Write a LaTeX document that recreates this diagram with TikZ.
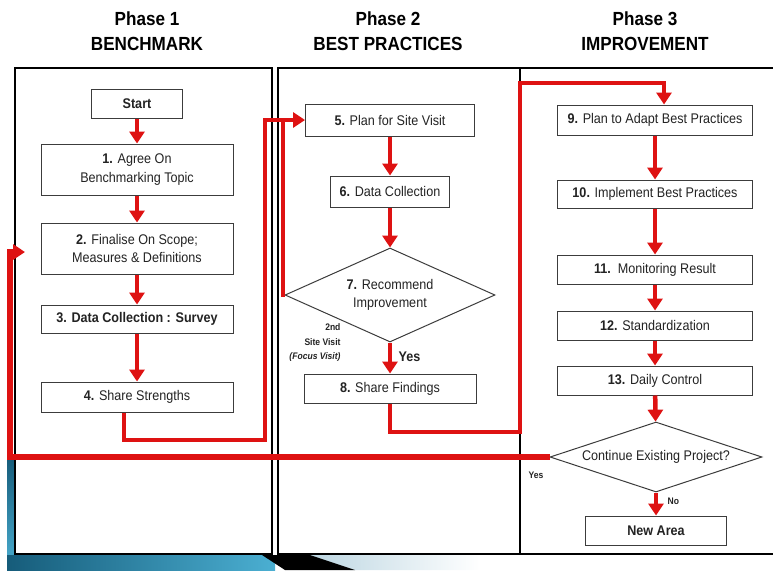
\documentclass[tikz,border=0pt]{standalone}
\usepackage{fontspec}
\setmainfont{Liberation Sans}[FakeStretch=0.9]
\usepackage{tikz}
\usetikzlibrary{calc}
\usetikzlibrary{shapes.geometric,arrows.meta}
\definecolor{flowred}{RGB}{222,18,18}
\definecolor{boxline}{RGB}{60,60,60}
\definecolor{txtgray}{RGB}{35,35,35}
\definecolor{tealdark}{RGB}{22,92,122}
\definecolor{teallight}{RGB}{75,175,210}
\definecolor{swoosh}{RGB}{185,212,224}
\tikzset{
	box/.style={draw=boxline,line width=1pt,fill=white,inner sep=0pt,align=center,text=txtgray,font=\fontsize{14}{19}\selectfont},
	dia/.style={box,diamond},
	redarrow/.style={draw=flowred,line width=4.5pt,-{Triangle[width=15pt,length=12pt]}},
	redline/.style={draw=flowred,line width=4.5pt},
	panel/.style={draw=black,line width=1.3pt},
	phase/.style={align=center,text=black,font=\bfseries\fontsize{19}{25}\selectfont},
	small/.style={text=txtgray,font=\bfseries\fontsize{9.5}{14.5}\selectfont}
}

\begin{document}
\begin{tikzpicture}[x=1pt,y=-1pt]
		\useasboundingbox (0,0) rectangle (773,570);
		% slide background
		\shade[top color=tealdark,bottom color=teallight] (7,458) rectangle (15,570);
		\shade[left color=tealdark,right color=teallight] (7,555) rectangle (275,570);
		\shade[left color=swoosh,right color=white] (300,555) -- (480,555) -- (480,570) -- (350,570) -- cycle;
		\fill[black] (262,555) -- (310,555) -- (355,570) -- (285,570) -- cycle;
		% phases
		\node[phase] (ph1) at (147,31) {Phase 1\\BENCHMARK};
		\node[phase] (ph2) at (388,31) {Phase 2\\BEST PRACTICES};
		\node[phase] (ph3) at (645,31) {Phase 3\\IMPROVEMENT};
		\draw[panel] (15,68) rectangle (272,554);
		\draw[panel] (278,68) rectangle (520,554);
		\draw[panel] (790,68) -- (520,68) -- (520,554) -- (790,554);
		% phase 1
		\node[box,minimum width=91pt,minimum height=29pt,font=\bfseries\fontsize{14}{19}\selectfont] (start) at (137,103.5) {Start};
		\node[box,minimum width=192pt,minimum height=51pt] (agree) at (137,169.5) {\textbf{1.} Agree On\\Benchmarking Topic};
		\node[box,minimum width=192pt,minimum height=51pt,font=\fontsize{14}{18}\selectfont] (scope) at (137,248.5) {\textbf{2.} Finalise On Scope;\\Measures \& Definitions};
		\node[box,minimum width=192pt,minimum height=28pt,font=\bfseries\fontsize{14}{19}\selectfont] (survey) at (137,319) {3. Data Collection : Survey};
		\node[box,minimum width=192pt,minimum height=30pt] (share) at (137,397) {\textbf{4.} Share Strengths};
		\draw[redarrow] (start) -- (agree);
		\draw[redarrow] (agree) -- (scope);
		\draw[redarrow] (scope) -- (survey);
		\draw[redarrow] (survey) -- (share);
		% phase 2
		\node[box,minimum width=169pt,minimum height=32pt] (plan) at (390,120) {\textbf{5.} Plan for Site Visit};
		\node[box,minimum width=119pt,minimum height=31pt] (collect) at (390,191.5) {\textbf{6.} Data Collection};
		\node[dia,aspect=2.2,minimum width=210pt,minimum height=94pt,font=\fontsize{14}{18}\selectfont] (recommend) at (390,295) {\textbf{7.} Recommend\\Improvement};
		\node[box,minimum width=172pt,minimum height=29pt] (findings) at (390,388.5) {\textbf{8.} Share Findings};
		\node[small,align=right,anchor=east] (visit) at (344,343) {2nd\\Site Visit\\\textit{(Focus Visit)}};
		\coordinate (c4) at (265,440);
		\coordinate (c5) at (283,120);
		\draw[redline] (recommend.west) -| (c5);
		\draw[redarrow] ([xshift=-13pt]share.south) |- (c4) |- (plan.west);
		\draw[redarrow] (plan) -- (collect);
		\draw[redarrow] (collect) -- (recommend);
		\draw[redarrow] (recommend) -- (findings) node[pos=0.45,right=3pt,text=txtgray,font=\bfseries\fontsize{14}{16}\selectfont] (yes7) {Yes};
		% phase 3
		\node[box,minimum width=195pt,minimum height=30pt] (adapt) at (655,120) {\textbf{9.} Plan to Adapt Best Practices};
		\node[box,minimum width=195pt,minimum height=28pt] (implement) at (655,194) {\textbf{10.} Implement Best Practices};
		\node[box,minimum width=195pt,minimum height=29pt] (monitor) at (655,269.5) {\textbf{11.}\ \ Monitoring Result};
		\node[box,minimum width=195pt,minimum height=29pt] (standard) at (655,325.5) {\textbf{12.} Standardization};
		\node[box,minimum width=195pt,minimum height=29pt] (daily) at (655,380.5) {\textbf{13.} Daily Control};
		\node[dia,aspect=3,minimum width=212pt,minimum height=70pt] (continue) at (656,457) {Continue Existing Project?};
		\node[box,minimum width=141pt,minimum height=29pt,font=\bfseries\fontsize{14}{19}\selectfont] (newarea) at (656,530.5) {New Area};
		\coordinate (c8) at (520,432);
		\coordinate (c9) at (664,83);
		\draw[redarrow] (findings.south) |- (c8) |- (c9) -- (c9 |- adapt.north);
		\draw[redarrow] (adapt) -- (implement);
		\draw[redarrow] (implement) -- (monitor);
		\draw[redarrow] (monitor) -- (standard);
		\draw[redarrow] (standard) -- (daily);
		\draw[redarrow] (daily) -- (continue);
		\draw[redarrow] (continue) -- (newarea) node[pos=0.4,right=6pt,small] (no) {No};
		% back to phase 1
		\coordinate (c14) at (10,457);
		\coordinate (c2) at (25,252);
		\draw[redarrow,line width=6pt] (continue.west) -- (c14) |- (c2);
		\node[small] (yes14) at (536,475) {Yes};
	\end{tikzpicture}
\end{document}
